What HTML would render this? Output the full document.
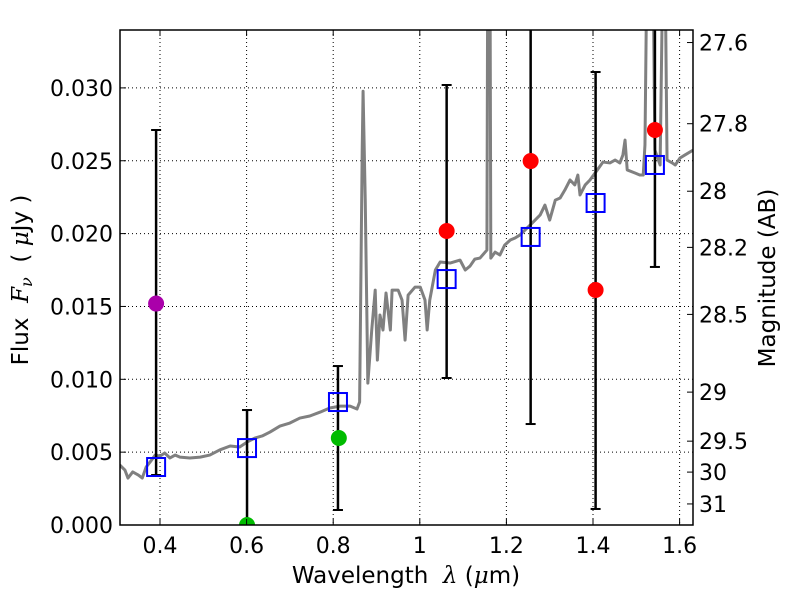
<!DOCTYPE html>
<html><head><meta charset="utf-8"><style>
body{margin:0;background:#fff}
svg{font-family:"DejaVu Sans","Liberation Sans",sans-serif}
</style></head><body>
<svg id="chart" width="800" height="600" xmlns="http://www.w3.org/2000/svg" style="position:absolute;left:0;top:0"></svg>
<script>
const specLam=[0.307,0.319,0.326,0.337,0.350,0.359,0.368,0.377,0.389,0.400,0.411,0.423,0.435,0.446,0.469,0.493,0.515,0.538,0.562,0.584,0.601,0.619,0.636,0.654,0.677,0.700,0.723,0.746,0.770,0.792,0.816,0.839,0.855,0.861,0.867,0.869,0.874,0.880,0.889,0.897,0.902,0.908,0.915,0.922,0.932,0.936,0.950,0.959,0.966,0.973,0.989,1.001,1.012,1.017,1.023,1.036,1.047,1.070,1.093,1.105,1.116,1.127,1.139,1.155,1.157,1.162,1.164,1.174,1.185,1.196,1.209,1.220,1.231,1.255,1.278,1.289,1.300,1.313,1.324,1.335,1.347,1.358,1.365,1.370,1.382,1.393,1.410,1.423,1.439,1.451,1.462,1.469,1.474,1.479,1.497,1.508,1.516,1.520,1.525,1.538,1.543,1.555,1.562,1.566,1.571,1.583,1.590,1.601,1.612,1.631];
const specFlux=[0.00412,0.00377,0.00322,0.00364,0.00343,0.00322,0.00398,0.00432,0.00480,0.00473,0.00494,0.00460,0.00480,0.00466,0.00460,0.00466,0.00480,0.00515,0.00542,0.00535,0.00569,0.00597,0.00611,0.00638,0.00679,0.00700,0.00734,0.00748,0.00775,0.00803,0.00816,0.00816,0.00796,0.00844,0.02573,0.02977,0.02230,0.00974,0.01338,0.01612,0.01132,0.01441,0.01338,0.01592,0.01338,0.01612,0.01612,0.01544,0.01269,0.01578,0.01633,0.01633,0.01544,0.01338,0.01544,0.01750,0.01805,0.01798,0.01818,0.01750,0.01777,0.01825,0.01832,0.01887,0.040,0.040,0.01832,0.01873,0.01853,0.01921,0.01956,0.01970,0.01990,0.02059,0.02128,0.02196,0.02093,0.02230,0.02244,0.02299,0.02368,0.02334,0.02402,0.02265,0.02334,0.02368,0.02437,0.02491,0.02485,0.02505,0.02485,0.02539,0.02642,0.02437,0.02416,0.02402,0.02402,0.02608,0.040,0.040,0.02573,0.02471,0.040,0.040,0.02505,0.02485,0.02471,0.02519,0.02539,0.02573];
const bandLam=[0.391,0.601,0.811,1.062,1.256,1.406,1.543];
const modelFlux=[0.00398,0.00528,0.00844,0.01688,0.01977,0.02210,0.02471];
const errLow=[0.00343,-0.001,0.00103,0.01009,0.00693,0.0011,0.01771];
const errHigh=[0.02711,0.00789,0.01091,0.0302,0.040,0.03109,0.040];
const obsLam=[0.391,0.601,0.813,1.062,1.256,1.406,1.543];
const obsFlux=[0.0152,0.0,0.00597,0.02018,0.02498,0.01613,0.02711];
const obsColor=["#aa00aa","#00bb00","#00bb00","#ff0000","#ff0000","#ff0000","#ff0000"];
const xTicks=[0.4,0.6,0.8,1.0,1.2,1.4,1.6];
const xTickLabels=["0.4","0.6","0.8","1","1.2","1.4","1.6"];
const yTicks=[0,0.005,0.010,0.015,0.020,0.025,0.030];
const yTickLabels=["0.000","0.005","0.010","0.015","0.020","0.025","0.030"];
const magTicks=[27.6,27.8,28,28.2,28.5,29,29.5,30,31];
const magLabels=["27.6","27.8","28","28.2","28.5","29","29.5","30","31"];

const L=120,R=693,T=30,B=525;
const X=v=>160+(v-0.4)*433;
const Y=v=>525-v*14570;
const NS="http://www.w3.org/2000/svg";
const svg=document.getElementById('chart');
function mk(tag,a,parent){const e=document.createElementNS(NS,tag);for(const k in a)e.setAttribute(k,a[k]);(parent||svg).appendChild(e);return e;}

const defs=mk('defs',{});
const cp=mk('clipPath',{id:'clip'},defs);mk('rect',{x:L,y:T,width:R-L,height:B-T},cp);

const grid=mk('g',{});


xTicks.forEach(t=>{const x=X(t);if(x<R)mk('line',{x1:x,x2:x,y1:T,y2:B,stroke:'#000','stroke-dasharray':'1,3','stroke-width':1},grid);});
yTicks.forEach(t=>{const y=Y(t);mk('line',{x1:L,x2:R,y1:y,y2:y,stroke:'#000','stroke-dasharray':'1,3','stroke-width':1},grid);});

const plot=mk('g',{'clip-path':'url(#clip)'});
const sp=mk('polyline',{points:specLam.map((l,i)=>X(l)+','+Y(specFlux[i])).join(' '),fill:'none',stroke:'#808080','stroke-width':3,'stroke-linejoin':'round'},plot);



bandLam.forEach((l,i)=>{
 const g=mk('g',{},plot);
 
 
 const x=X(l);
 mk('line',{x1:x,x2:x,y1:Y(errLow[i]),y2:Y(errHigh[i]),stroke:'#000','stroke-width':2.5},g);
 mk('line',{x1:x-5,x2:x+5,y1:Y(errLow[i]),y2:Y(errLow[i]),stroke:'#000','stroke-width':2},g);
 mk('line',{x1:x-5,x2:x+5,y1:Y(errHigh[i]),y2:Y(errHigh[i]),stroke:'#000','stroke-width':2},g);
});
obsLam.forEach((l,i)=>{
 const c=mk('circle',{cx:X(l),cy:Y(obsFlux[i]),r:8,fill:obsColor[i]},plot);
 
 
});
bandLam.forEach((l,i)=>{
 const r=mk('rect',{x:X(l)-9,y:Y(modelFlux[i])-9,width:18,height:18,fill:'none',stroke:'#0000ff','stroke-width':2},plot);
 
 
});

const frame=mk('rect',{x:L,y:T,width:R-L,height:B-T,fill:'none',stroke:'#000','stroke-width':1.5});



xTicks.forEach((t,i)=>{const x=X(t);
 mk('line',{x1:x,x2:x,y1:B,y2:B-6,stroke:'#000'});mk('line',{x1:x,x2:x,y1:T,y2:T+6,stroke:'#000'});
 const tx=mk('text',{x:x,y:B+28,'text-anchor':'middle','font-size':22});tx.textContent=xTickLabels[i];
 
 
});
yTicks.forEach((t,i)=>{const y=Y(t);
 mk('line',{x1:L,x2:L+6,y1:y,y2:y,stroke:'#000'});
 const tx=mk('text',{x:L-7,y:y+8,'text-anchor':'end','font-size':22});tx.textContent=yTickLabels[i];
 
 
});
magTicks.forEach((m,i)=>{const y=Y(Math.pow(10,(23.9-m)/2.5));
 mk('line',{x1:R,x2:R-6,y1:y,y2:y,stroke:'#000'});
 const tx=mk('text',{x:R+6,y:y+8,'font-size':22});tx.textContent=magLabels[i];
 
 
});
</script>
<svg style="position:absolute;left:0;top:0" width="800" height="600" xmlns="http://www.w3.org/2000/svg" font-family="DejaVu Sans, Liberation Sans, sans-serif">
<text x="406" y="583" text-anchor="middle" font-size="23" xml:space="preserve">Wavelength  <tspan font-family="DejaVu Serif, serif" font-style="italic">λ</tspan> (<tspan font-family="DejaVu Serif, serif" font-style="italic">μ</tspan>m)</text>
<text transform="translate(28,280) rotate(-90)" text-anchor="middle" font-size="23" xml:space="preserve">Flux  <tspan font-family="DejaVu Serif, serif" font-style="italic">F</tspan><tspan font-family="DejaVu Serif, serif" font-style="italic" font-size="16" dy="4">ν</tspan><tspan dy="-4">  ( </tspan><tspan font-family="DejaVu Serif, serif" font-style="italic">μ</tspan>Jy )</text>
<text transform="translate(775,278) rotate(-90)" text-anchor="middle" font-size="23">Magnitude (AB)</text>
</svg>
</body></html>
